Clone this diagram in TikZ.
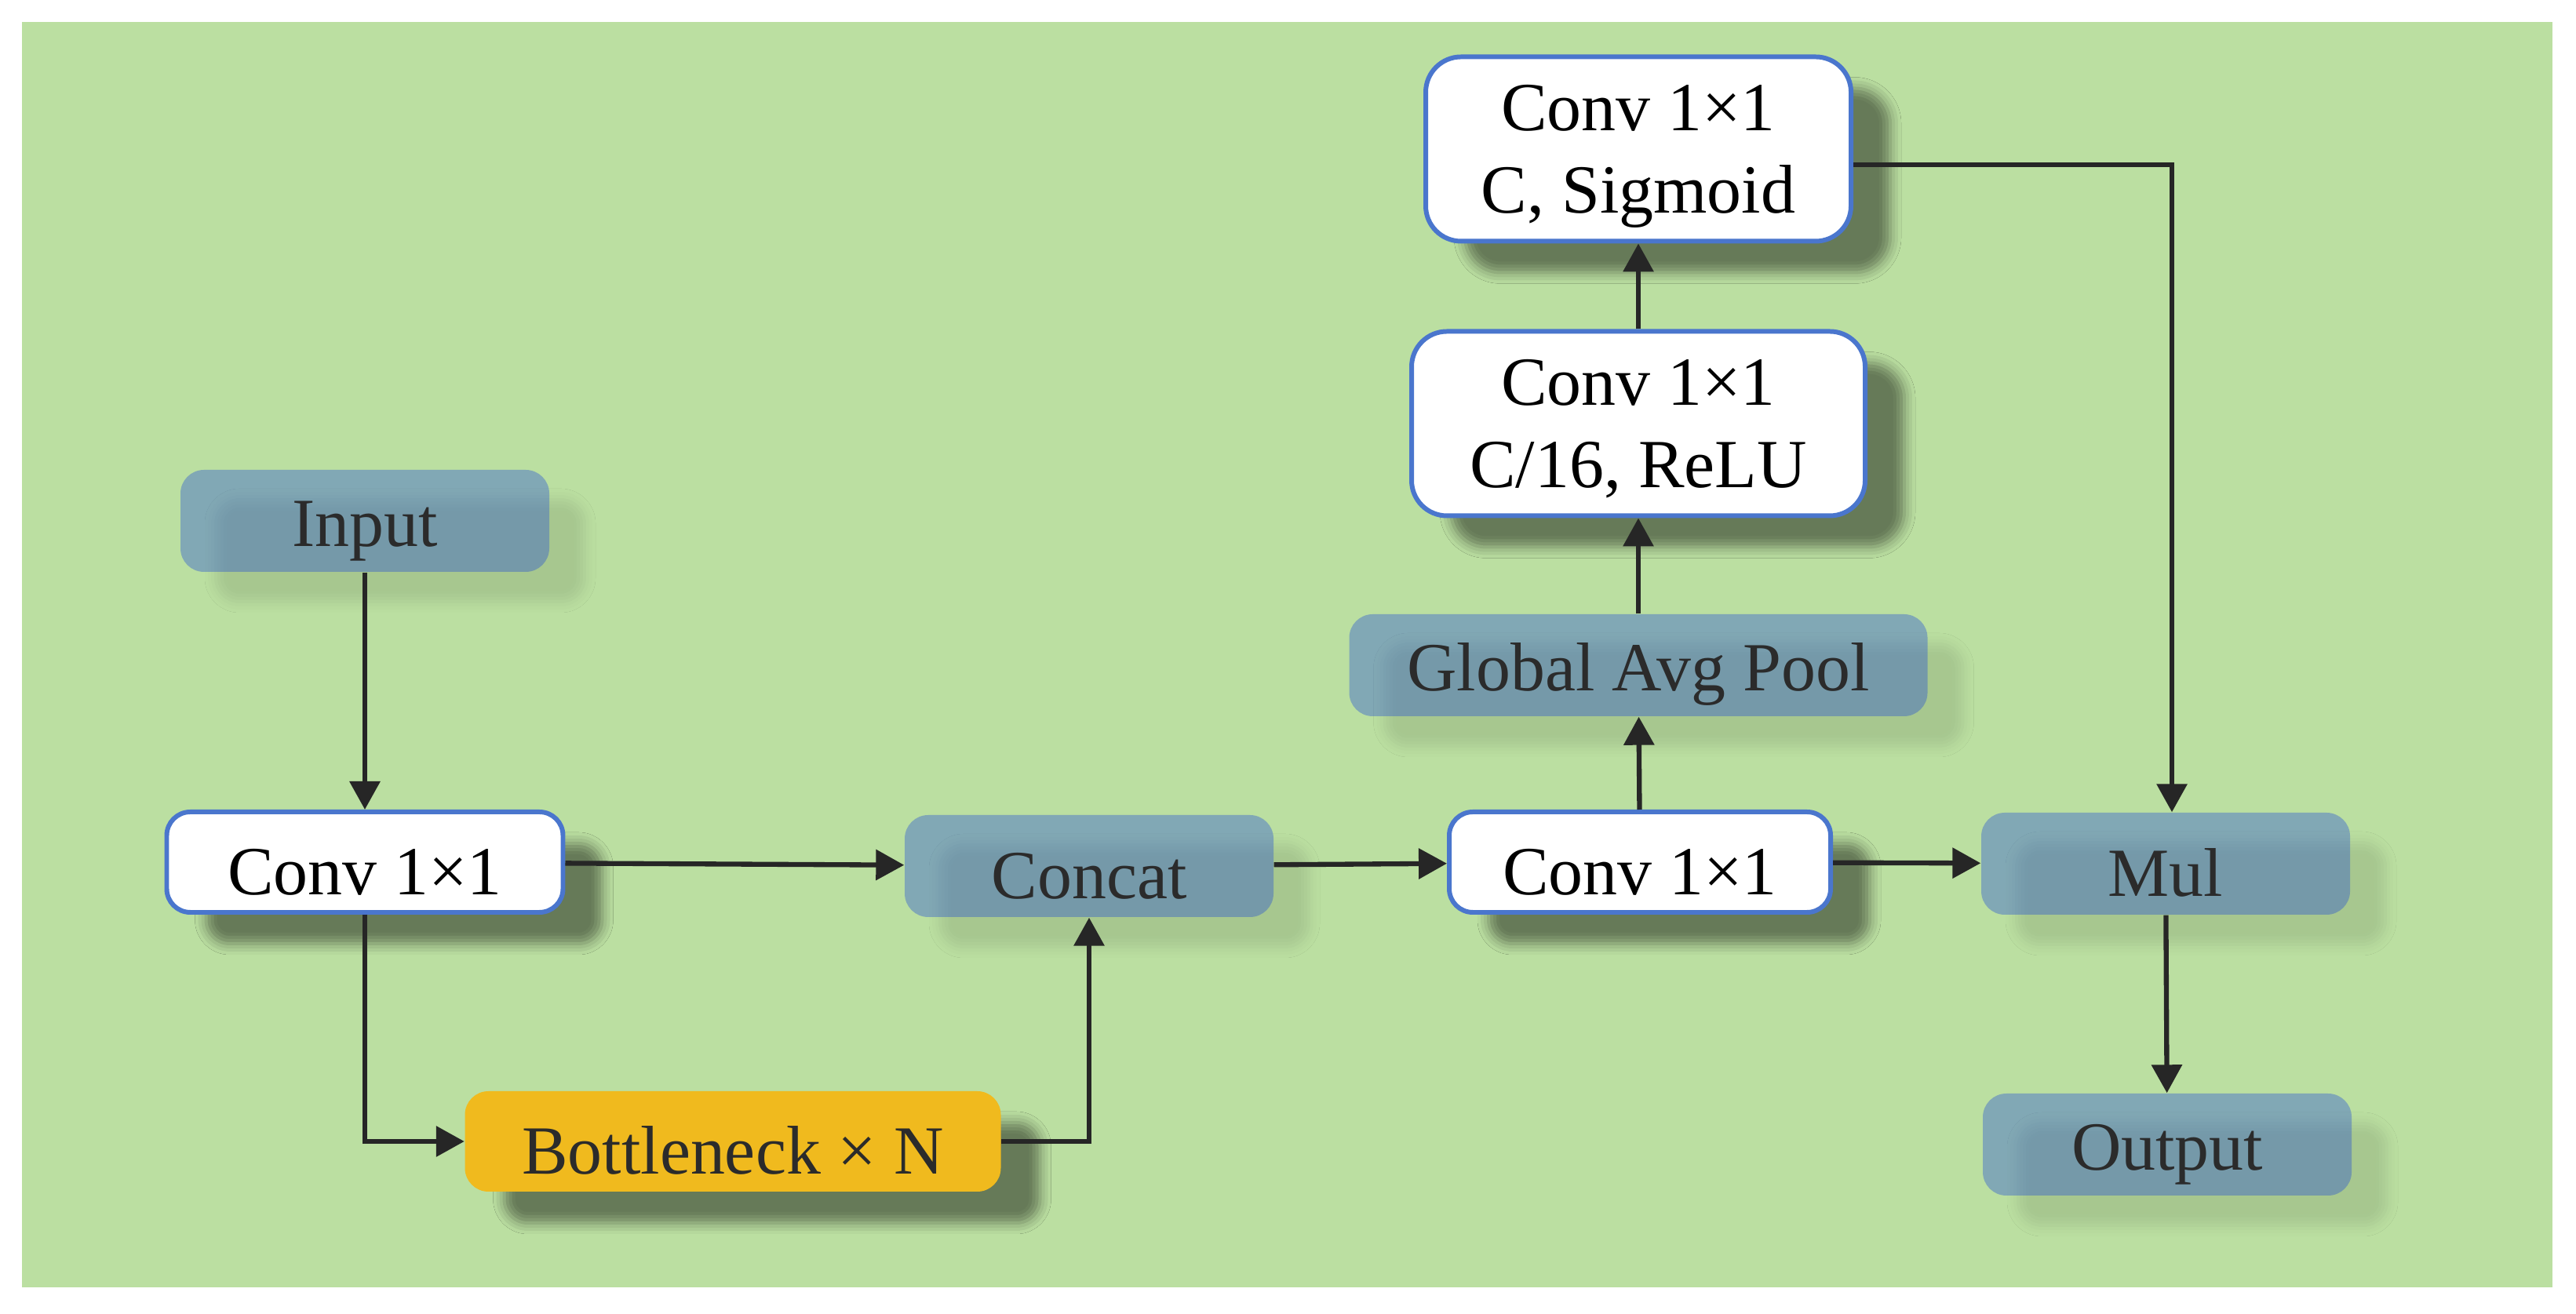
\documentclass[tikz,border=0pt]{standalone}
\usepackage{fontspec}
\setmainfont{Liberation Serif}
\usepackage{tikz}
\usetikzlibrary{arrows.meta,shadows.blur}
\definecolor{bggreen}{RGB}{187,223,161}
\definecolor{stageblue}{RGB}{29,73,217}
\definecolor{edgeblue}{RGB}{74,118,205}
\definecolor{neckorange}{RGB}{240,186,30}
\definecolor{txtgray}{RGB}{43,43,43}

\tikzset{
  box/.style={rounded corners=0.3cm, align=center, inner sep=0pt, font=\fontsize{25}{30}\selectfont,
    execute at begin node={\rule{0pt}{0.95em}}},
  stage/.style={box, fill=stageblue, fill opacity=0.36, text opacity=1, text=txtgray, minimum width=4.7cm, minimum height=1.3cm,
    blur shadow={shadow xshift=0.45cm, shadow yshift=-0.38cm, shadow opacity=30, shadow blur radius=0.14cm}},
  conv/.style={box, fill=white, draw=edgeblue, line width=1.7pt, text=black, minimum height=1.28cm,
    blur shadow={shadow xshift=0.5cm, shadow yshift=-0.4cm, shadow opacity=45, shadow blur radius=0.14cm}},
  convtwo/.style={conv, minimum height=2.35cm, rounded corners=0.45cm, text depth=-2pt},
  neck/.style={box, fill=neckorange, text=txtgray, minimum width=6.83cm, minimum height=1.28cm,
    blur shadow={shadow xshift=0.5cm, shadow yshift=-0.4cm, shadow opacity=45, shadow blur radius=0.14cm}},
  arr/.style={line width=1.8pt, draw=black!85, -{Triangle[length=0.36cm,width=0.38cm]}}
}

\begin{document}
\begin{tikzpicture}
  \useasboundingbox (0,0) rectangle (32.83,16.75);
  \fill[white] (0,0) rectangle (32.83,16.75);
  \fill[bggreen] (0.28,0.34) rectangle (32.53,16.47);

  \node[stage] (input) at (4.65,10.11) {Input};
  \node[conv, minimum width=5.05cm] (conva) at (4.65,5.76) {Conv 1×1};
  \node[neck] (neck) at (9.34,2.20) {Bottleneck × N};
  \node[stage] (concat) at (13.88,5.71) {Concat};
  \node[conv, minimum width=4.86cm] (convb) at (20.90,5.76) {Conv 1×1};
  \node[stage, minimum width=7.37cm] (gap) at (20.88,8.27) {Global Avg Pool};
  \node[convtwo, minimum width=5.78cm] (relu) at (20.88,11.35) {Conv 1×1\\C/16, ReLU};
  \node[convtwo, minimum width=5.42cm] (sig) at (20.88,14.85) {Conv 1×1\\C, Sigmoid};
  \node[stage] (mul) at (27.60,5.74) {Mul};
  \node[stage] (output) at (27.62,2.16) {Output};

  \draw[arr] (input) -- (conva);
  \draw[arr] (conva) -- (concat);
  \draw[arr] (conva.south) |- (neck.west);
  \draw[arr] (neck.east) -| (concat.south);
  \draw[arr] (concat) -- (convb);
  \draw[arr] (convb) -- (gap);
  \draw[arr] (gap) -- (relu);
  \draw[arr] (relu) -- (sig);
  \draw[arr] ([yshift=-0.2cm]sig.east) -| ([xshift=0.08cm]mul.north);
  \draw[arr] (convb) -- (mul);
  \draw[arr] (mul) -- (output);
\end{tikzpicture}
\end{document}
